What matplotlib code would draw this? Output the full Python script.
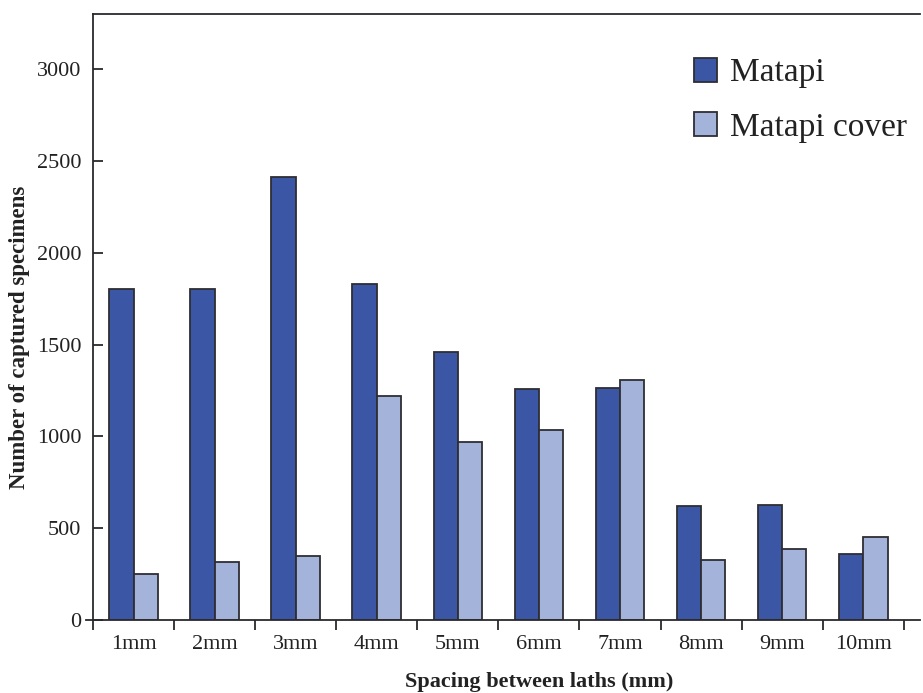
import matplotlib
matplotlib.use("Agg")
import matplotlib.pyplot as plt
import numpy as np

plt.rcParams["font.family"] = "Liberation Serif"

CATEGORIES = ["1mm", "2mm", "3mm", "4mm", "5mm", "6mm", "7mm", "8mm", "9mm", "10mm"]
MATAPI = [1800, 1800, 2410, 1830, 1460, 1260, 1265, 620, 625, 360]
MATAPI_COVER = [252, 318, 350, 1220, 972, 1033, 1307, 328, 388, 453]

DARK = "#3A56A4"
LIGHT = "#A3B3DA"
EDGE = "#2E2E33"
AXIS = "#2A2A2E"

fig = plt.figure(figsize=(9.23, 6.93), dpi=100)
ax = fig.add_axes([93 / 923, (693 - 620) / 693, (920 - 93) / 923, (620 - 14) / 693])

x = np.arange(1, len(CATEGORIES) + 1)
w = 0.30
ax.bar(x - w / 2, MATAPI, w, color=DARK, edgecolor=EDGE, linewidth=1.3, label="Matapi")
ax.bar(x + w / 2, MATAPI_COVER, w, color=LIGHT, edgecolor=EDGE, linewidth=1.3, label="Matapi cover")

ax.set_xlim(0.5, 10.7)
ax.set_ylim(0, 3300)

ax.spines["right"].set_visible(False)
for s in ("left", "bottom", "top"):
    ax.spines[s].set_linewidth(1.3)
    ax.spines[s].set_color(AXIS)
# bottom axis line runs a little past the y axis
ax.plot([-0.008, 0], [0, 0], transform=ax.transAxes, clip_on=False, color=AXIS, lw=1.3)

ax.set_yticks([0, 500, 1000, 1500, 2000, 2500, 3000])
ax.tick_params(axis="y", direction="in", length=7, width=1.3, pad=8.5, labelsize=16,
               color=AXIS, labelcolor="#222222")

ax.set_xticks(x)
ax.set_xticklabels(CATEGORIES)
ax.set_xticks(np.arange(0.5, 11, 1.0), minor=True)
ax.tick_params(axis="x", which="major", length=0, pad=11, labelsize=16, labelcolor="#222222")
ax.tick_params(axis="x", which="minor", direction="out", length=7, width=1.3, color=AXIS)

ax.set_xlabel("Spacing between laths (mm)", fontsize=16, fontweight="bold", color="#222222")
ax.set_ylabel("Number of captured specimens", fontsize=16.5, fontweight="bold", color="#222222")
ax.xaxis.set_label_coords(0.54, -0.086)
ax.yaxis.set_label_coords(-0.076, 0.466)

ax.legend(loc="upper left", bbox_to_anchor=(694 / 923, (693 - 58) / 693),
          bbox_transform=fig.transFigure, frameon=False, fontsize=24,
          borderpad=0, borderaxespad=0,
          handlelength=0.7, handleheight=0.7, handletextpad=0.38, labelspacing=0.71,
          labelcolor="#222222")

plt.savefig("out.png", dpi=100)
